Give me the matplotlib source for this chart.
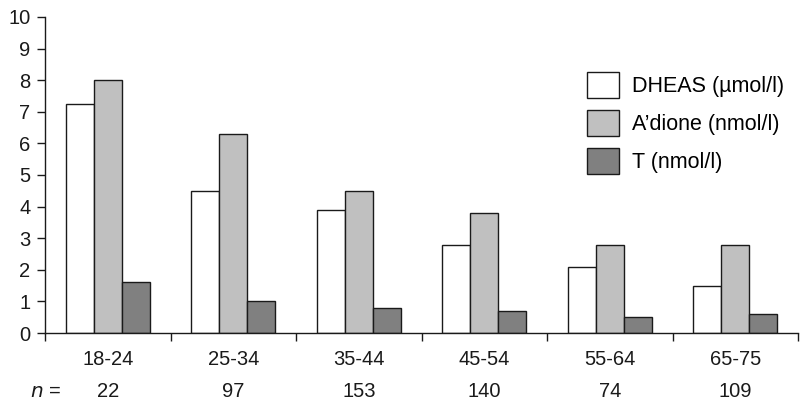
import numpy as np
import matplotlib
matplotlib.use("Agg")
import matplotlib.pyplot as plt
from matplotlib.transforms import blended_transform_factory

plt.rcParams["font.family"] = ["Liberation Sans", "DejaVu Sans"]

age_groups = ["18-24", "25-34", "35-44", "45-54", "55-64", "65-75"]
n_values = [22, 97, 153, 140, 74, 109]
dheas = [7.25, 4.5, 3.9, 2.8, 2.1, 1.5]
adione = [8.0, 6.3, 4.5, 3.8, 2.8, 2.8]
testo = [1.6, 1.0, 0.8, 0.7, 0.5, 0.6]

series_labels = ["DHEAS (\u00b5mol/l)", "A\u2019dione (nmol/l)", "T (nmol/l)"]
series_colors = ["#ffffff", "#c0c0c0", "#808080"]

W, H = 809, 411
fig = plt.figure(figsize=(W / 100, H / 100), dpi=100)
ax = fig.add_axes([45 / W, 78 / H, 753 / W, 316 / H])

x = np.arange(len(age_groups)) + 0.5
width = 0.223
for i, (vals, lab, col) in enumerate(zip([dheas, adione, testo], series_labels, series_colors)):
    ax.bar(x + (i - 1) * width, vals, width, color=col, edgecolor="#1a1a1a",
           linewidth=1.0, label=lab, zorder=2)

ax.set_xlim(0, len(age_groups))
ax.set_ylim(0, 10)
ax.set_yticks(range(0, 11))
ax.set_xticks(range(0, len(age_groups) + 1))
ax.set_xticklabels([])
ax.set_xticks(x, minor=True)
ax.set_xticklabels(age_groups, minor=True)

ax.spines["top"].set_visible(False)
ax.spines["right"].set_visible(False)
for s in ["left", "bottom"]:
    ax.spines[s].set_linewidth(1.0)
    ax.spines[s].set_color("#1a1a1a")

ax.tick_params(axis="y", which="major", direction="out", length=5.5, width=1.0,
               labelsize=14.5, pad=5, colors="#1a1a1a")
ax.tick_params(axis="x", which="major", direction="out", length=6, width=1.0,
               colors="#1a1a1a")
ax.tick_params(axis="x", which="minor", length=0, labelsize=14.5, pad=12.5,
               labelcolor="#1a1a1a")

trans = blended_transform_factory(ax.transData, fig.transFigure)
for xi, n in zip(x, n_values):
    ax.text(xi, 1 - 397 / H, str(n), transform=trans, ha="center", va="baseline",
            fontsize=14.5, color="#1a1a1a")
fig.text(30 / W, 1 - 397 / H, r"$\mathit{n}$ =", ha="left", va="baseline",
         fontsize=14.5, color="#1a1a1a")

ax.legend(loc="upper left", bbox_to_anchor=(587 / W, 1 - 72 / H),
          bbox_transform=fig.transFigure, frameon=False, fontsize=15.5,
          borderpad=0, handlelength=1.5, handleheight=1.5, handletextpad=0.6,
          labelspacing=0.55, borderaxespad=0)

fig.savefig("out.png", dpi=100)
